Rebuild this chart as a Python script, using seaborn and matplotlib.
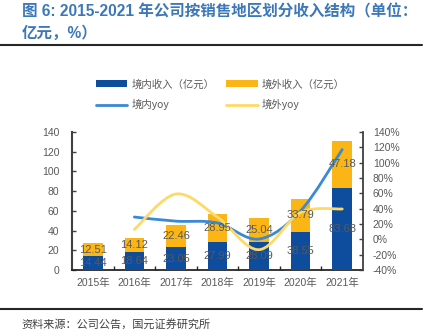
import numpy as np
import pandas as pd
import matplotlib
matplotlib.use("Agg")
import matplotlib.pyplot as plt
import seaborn as sns
from matplotlib.path import Path
from matplotlib.patches import PathPatch, Patch
from matplotlib.lines import Line2D
from matplotlib.ticker import FuncFormatter, MultipleLocator

# Revenue by sales region (亿元) and year-on-year growth (%)
years = ["2015年", "2016年", "2017年", "2018年", "2019年", "2020年", "2021年"]
domestic = [14.44, 18.64, 23.05, 27.99, 28.09, 38.55, 83.68]
overseas = [12.51, 14.12, 22.46, 28.95, 25.04, 33.79, 47.18]
domestic_yoy = [29.1, 23.7, 21.4, 0.4, 37.2, 117.1]   # 2016-2021
overseas_yoy = [12.9, 59.1, 28.9, -13.5, 34.9, 39.6]  # 2016-2021

sns.set_theme(style="white")
plt.rcParams["font.family"] = ["Liberation Sans", "Noto Sans CJK SC", "DejaVu Sans"]

C_DOM = "#0E4C9E"
C_OVS = "#FBB616"
C_DOM_YOY = "#3A89D4"
C_OVS_YOY = "#FFD966"
C_TXT = "#595959"

fig = plt.figure(figsize=(4.33, 3.36), dpi=100)
ax = fig.add_axes([72 / 433, 66 / 336, 291 / 433, 138 / 336])

df = pd.DataFrame({"year": years, "domestic": domestic, "overseas": overseas})
df["total"] = df["domestic"] + df["overseas"]

sns.barplot(data=df, x="year", y="total", color=C_OVS, saturation=1, width=0.47,
            ax=ax, edgecolor="none", zorder=2)
sns.barplot(data=df, x="year", y="domestic", color=C_DOM, saturation=1, width=0.47,
            ax=ax, edgecolor="none", zorder=3)

ax.set_xlim(-0.5, 6.5)
ax.set_ylim(0, 140)
ax.yaxis.set_major_locator(MultipleLocator(20))
ax.set_xlabel("")
ax.set_ylabel("")
ax.set_xticks(range(7))
ax.set_xticklabels(years)
ax.set_xticks(np.arange(0.5, 6.5, 1), minor=True)
ax.tick_params(axis="x", which="major", length=0, pad=6, labelsize=7.5, labelcolor=C_TXT)
ax.tick_params(axis="x", which="minor", direction="in", length=3, width=1, color="#262626",
               bottom=True)
ax.tick_params(axis="y", direction="in", length=3, width=1, color="#404040", left=True,
               pad=9, labelsize=7.5, labelcolor=C_TXT)
for s in ["top", "right"]:
    ax.spines[s].set_visible(False)
ax.spines["left"].set_color("#404040")
ax.spines["left"].set_linewidth(1.5)
ax.spines["bottom"].set_color("#262626")
ax.spines["bottom"].set_linewidth(1.3)

ax2 = ax.twinx()
ax2.set_ylim(-40, 140)
ax2.yaxis.set_major_locator(MultipleLocator(20))
ax2.yaxis.set_major_formatter(FuncFormatter(lambda v, p: f"{v:.0f}%"))
ax2.tick_params(axis="y", direction="in", length=3, width=1, color="#404040", right=True,
                pad=7, labelsize=7.5, labelcolor=C_TXT)
for s in ["top", "left", "bottom"]:
    ax2.spines[s].set_visible(False)
ax2.spines["right"].set_color("#404040")
ax2.spines["right"].set_linewidth(1.3)
ax2.grid(False)


def smooth_path(xs, ys):
    pts = np.column_stack([xs, ys]).astype(float)
    verts = [pts[0]]
    codes = [Path.MOVETO]
    n = len(pts)
    for i in range(n - 1):
        p0 = pts[max(i - 1, 0)]
        p1 = pts[i]
        p2 = pts[i + 1]
        p3 = pts[min(i + 2, n - 1)]
        c1 = p1 + (p2 - p0) / 6.0
        c2 = p2 - (p3 - p1) / 6.0
        verts += [c1, c2, p2]
        codes += [Path.CURVE4] * 3
    return Path(verts, codes)


xs = np.arange(1, 7)
for vals, col in [(domestic_yoy, C_DOM_YOY), (overseas_yoy, C_OVS_YOY)]:
    patch = PathPatch(smooth_path(xs, vals), facecolor="none", edgecolor=col,
                      lw=2.0, capstyle="round", transform=ax2.transData, zorder=4)
    ax2.add_patch(patch)

# Segment value labels
for i in range(len(years)):
    ax2.text(i, domestic[i] / 2, f"{domestic[i]:.2f}", transform=ax.transData,
             ha="center", va="center", fontsize=8, color=C_TXT, zorder=6)
    ax2.text(i, domestic[i] + overseas[i] / 2, f"{overseas[i]:.2f}", transform=ax.transData,
             ha="center", va="center", fontsize=8, color=C_TXT, zorder=6)

# Legend (filled column by column)
handles = [
    Patch(facecolor=C_DOM, edgecolor="none", label="境内收入（亿元）"),
    Line2D([], [], color=C_DOM_YOY, lw=2, label="境内yoy"),
    Patch(facecolor=C_OVS, edgecolor="none", label="境外收入（亿元）"),
    Line2D([], [], color=C_OVS_YOY, lw=2, label="境外yoy"),
]
leg = fig.legend(handles=handles, ncol=2, loc="upper left",
                 bbox_to_anchor=(96 / 433, 1 - 79 / 336), frameon=False,
                 prop={"family": ["Noto Sans CJK SC", "DejaVu Sans"], "size": 7.5},
                 handlelength=3.0, handleheight=0.65, handletextpad=0.4,
                 columnspacing=1.15, labelspacing=0.95, borderaxespad=0, borderpad=0)
for t in leg.get_texts():
    t.set_color(C_TXT)

# Title, rules and source note
title_kw = dict(color="#3B78BA", fontsize=11.2, fontweight="bold",
                family=["Liberation Sans", "Noto Sans CJK SC", "DejaVu Sans"])
fig.text(22 / 433, 1 - 12 / 336, "图 6: 2015-2021 年公司按销售地区划分收入结构（单位：",
         ha="left", va="center", **title_kw)
fig.text(22 / 433, 1 - 33 / 336, "亿元，%）", ha="left", va="center", **title_kw)
fig.add_artist(Line2D([0, 422 / 433], [1 - 45 / 336] * 2, color="#262626", lw=1.5,
                      transform=fig.transFigure))
fig.add_artist(Line2D([0, 422 / 433], [1 - 309 / 336] * 2, color="#262626", lw=1.5,
                      transform=fig.transFigure))
fig.text(21 / 433, 1 - 324 / 336, "资料来源：公司公告，国元证券研究所", ha="left", va="center",
         fontsize=8, color="#404040", family=["Noto Sans CJK SC", "DejaVu Sans"])

fig.savefig("out.png", dpi=100)
